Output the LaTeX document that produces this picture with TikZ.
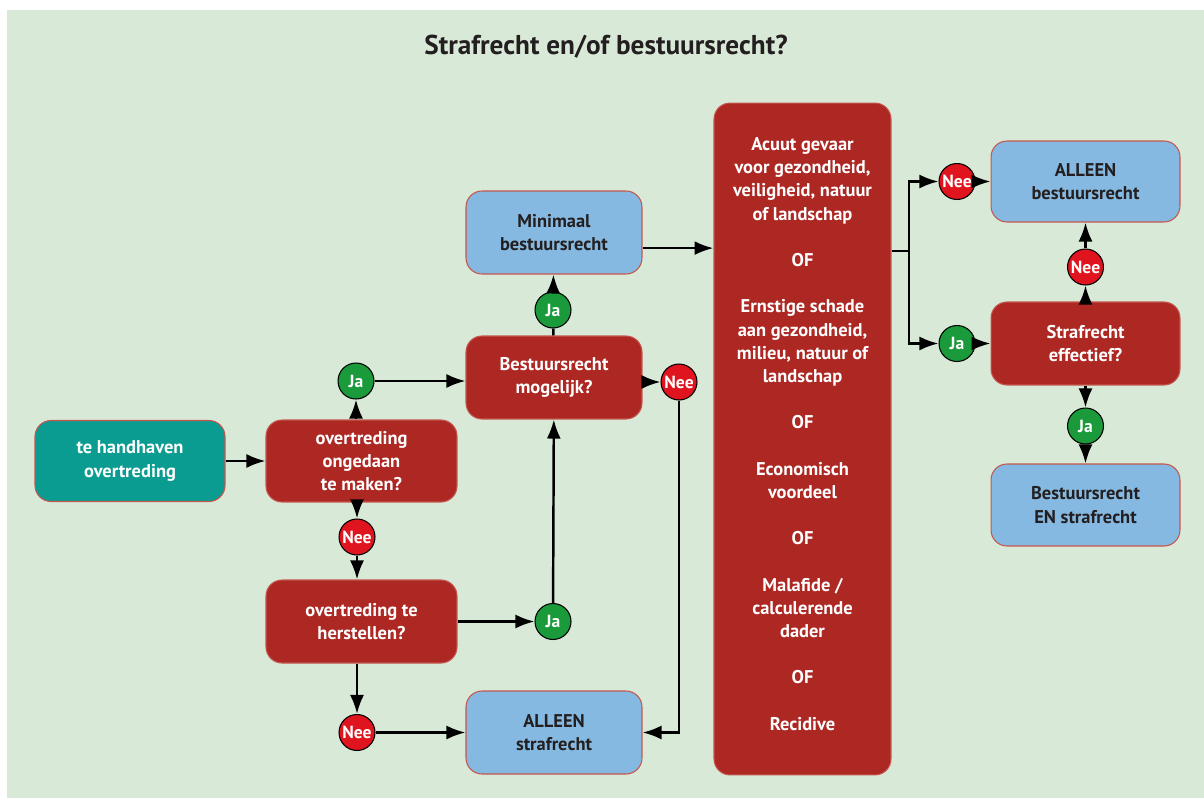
\documentclass[tikz,border=0pt]{standalone}
\usepackage{fontspec}
\setsansfont{PT Sans}
\renewcommand{\familydefault}{\sfdefault}
\usetikzlibrary{arrows.meta}
\usetikzlibrary{calc}
\usetikzlibrary{positioning}

\definecolor{achtergrond}{HTML}{D9E9D7}
\definecolor{vraagrood}{HTML}{AD2723}
\definecolor{randrood}{HTML}{C4564F}
\definecolor{startgroen}{HTML}{0A9C90}
\definecolor{uitblauw}{HTML}{86B9E1}
\definecolor{jagroen}{HTML}{1B9A3B}
\definecolor{neerood}{HTML}{E0141E}
\definecolor{inkt}{HTML}{231F20}

\begin{document}
\begin{tikzpicture}
	[
	x = 0.02cm, y = -0.02cm,
	> = {Latex[length=3.8mm,width=2.8mm]},
	pijl/.style = {->, line width=1.4pt, draw=black},
	lijn/.style = {line width=1.4pt, draw=black},
	blok/.style = {draw=randrood, line width=0.6pt, rounded corners=0.32cm, align=center,
		font=\fontsize{10.5}{13.2}\selectfont\bfseries, inner sep=2pt},
	vraag/.style = {blok, fill=vraagrood, text=white},
	start/.style = {blok, fill=startgroen, text=white},
	uitkomst/.style = {blok, fill=uitblauw, text=inkt},
	keuze/.style = {circle, draw=black, line width=0.6pt, minimum size=0.72cm, inner sep=0pt,
		text=white, font=\fontsize{10}{12}\selectfont\bfseries},
	ja/.style = {keuze, fill=jagroen},
	nee/.style = {keuze, fill=neerood}
	]

	% achtergrond
	\fill[white] (0,0) rectangle (1204,798);
	\fill[achtergrond] (7,10) rectangle (1204,798);
	\useasboundingbox (0,0) rectangle (1204,798);

	\node[text=inkt, font=\fontsize{15.5}{18}\selectfont\bfseries] (titel) at (606,47) {Strafrecht en/of bestuursrecht?};

	% blokken
	\node[start, minimum width=3.8cm, minimum height=1.62cm] (handhaven) at (130,461) {te handhaven\\overtreding};
	\node[vraag, minimum width=3.82cm, minimum height=1.64cm] (ongedaan) at (361.5,461) {overtreding\\ongedaan\\te maken?};
	\node[vraag, minimum width=3.82cm, minimum height=1.66cm] (herstellen) at (361.5,621.5) {overtreding te\\herstellen?};
	\node[vraag, minimum width=3.52cm, minimum height=1.66cm] (mogelijk) at (554,377.5) {Bestuursrecht\\mogelijk?};
	\node[uitkomst, minimum width=3.52cm, minimum height=1.66cm] (minimaal) at (554,232.5) {Minimaal\\bestuursrecht};
	\node[uitkomst, minimum width=3.52cm, minimum height=1.66cm] (alleenstraf) at (554,732.5) {ALLEEN\\strafrecht};
	\node[vraag, minimum width=3.54cm, minimum height=13.44cm] (ernstig) at (802.5,439) {};
	\node[align=center, text=white, font=\fontsize{10.5}{13.2}\selectfont\bfseries] (criteria) at ($(ernstig.center)+(0,-5)$)
		{Acuut gevaar\\voor gezondheid,\\veiligheid, natuur\\of landschap\\[13.2pt]OF\\[13.2pt]Ernstige schade\\aan gezondheid,\\milieu, natuur of\\landschap\\[13.2pt]OF\\[13.2pt]Economisch\\voordeel\\[13.2pt]OF\\[13.2pt]Malafide /\\calculerende\\dader\\[13.2pt]OF\\[13.2pt]Recidive};
	\node[uitkomst, minimum width=3.78cm, minimum height=1.62cm] (alleenbest) at (1085.5,181.5) {ALLEEN\\bestuursrecht};
	\node[vraag, minimum width=3.78cm, minimum height=1.66cm] (effectief) at (1085.5,343.5) {Strafrecht\\effectief?};
	\node[uitkomst, minimum width=3.78cm, minimum height=1.64cm] (beide) at (1085.5,505) {Bestuursrecht\\EN strafrecht};

	% ja / nee
	\node[ja] (ja1) at (356,381) {Ja};
	\node[nee] (nee1) at (357,537) {Nee};
	\node[nee] (nee2) at (357,732.5) {Nee};
	\node[ja] (ja2) at (553,621.5) {Ja};
	\node[ja] (ja3) at (553,310) {Ja};
	\node[nee] (nee3) at (679,382) {Nee};
	\node[nee] (nee4) at (957,181.5) {Nee};
	\node[ja] (ja4) at (957,343.5) {Ja};
	\node[nee] (nee5) at (1085.5,267) {Nee};
	\node[ja] (ja5) at (1085.5,426) {Ja};

	\coordinate (splits) at (909,251);

	% verbindingen
	\draw[pijl] (handhaven) -- (ongedaan);
	\draw[pijl] (ongedaan.north -| ja1) -- (ja1.south);
	\draw[pijl] (ja1.east) -- (ja1 -| mogelijk.west);
	\draw[pijl] (ongedaan.south -| nee1) -- (nee1.north);
	\draw[pijl] (nee1.south) -- (nee1 |- herstellen.north);
	\draw[pijl] (herstellen) -- (ja2);
	\draw[pijl] (ja2) -- (mogelijk);
	\draw[pijl] (herstellen.south -| nee2) -- (nee2.north);
	\draw[pijl] (nee2) -- (alleenstraf);
	\draw[pijl] (mogelijk.east |- nee3) -- (nee3.west);
	\draw[pijl] (nee3.south) |- (alleenstraf.east);
	\draw[lijn] (mogelijk) -- (ja3);
	\draw[pijl] (ja3) -- (minimaal);
	\draw[pijl] (minimaal.-10) -- (minimaal.-10 -| ernstig.west);
	\draw[lijn] (ernstig.east |- splits) -- (splits);
	\draw[pijl] (splits) |- (nee4.west);
	\draw[pijl] (splits) |- (ja4.west);
	\draw[pijl] (nee4) -- (alleenbest);
	\draw[pijl] (ja4) -- (effectief);
	\draw[pijl] (effectief) -- (nee5);
	\draw[pijl] (nee5) -- (alleenbest);
	\draw[pijl] (effectief) -- (ja5);
	\draw[pijl] (ja5) -- (beide);

\end{tikzpicture}
\end{document}
